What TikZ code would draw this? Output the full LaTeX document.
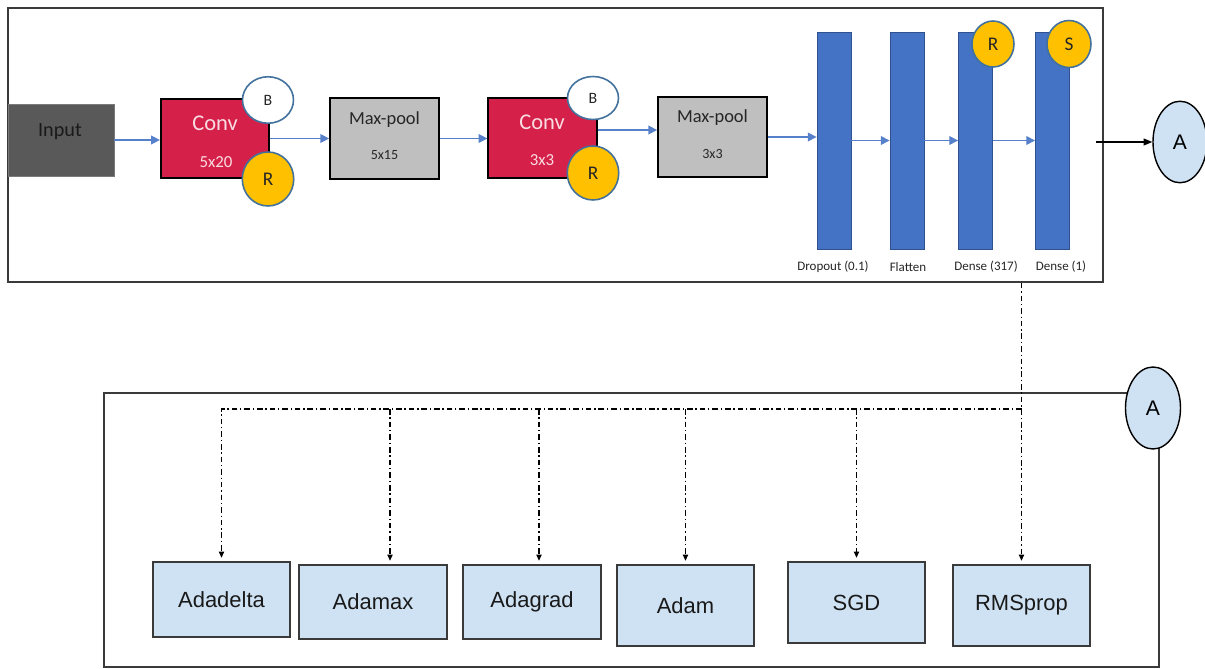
\documentclass[tikz,border=0pt]{standalone}
\usepackage{fontspec}
\setmainfont{Carlito}
\newfontfamily\arialf{Liberation Sans}
\usetikzlibrary{arrows.meta,shapes.geometric}
\definecolor{convred}{HTML}{D52149}
\definecolor{convtxt}{HTML}{F9DCE2}
\definecolor{inputgray}{HTML}{595959}
\definecolor{poolgray}{HTML}{BFBFBF}
\definecolor{barblue}{HTML}{4472C4}
\definecolor{barborder}{HTML}{2F528F}
\definecolor{ringblue}{HTML}{41719C}
\definecolor{gold}{HTML}{FFC000}
\definecolor{lightblue}{HTML}{CFE2F3}
\definecolor{framegray}{HTML}{3A3A3A}
\definecolor{txtdark}{HTML}{262626}
\begin{document}
\begin{tikzpicture}[x=0.02cm,y=-0.02cm,
  layerbox/.style={rectangle, draw=black, line width=1pt, inner sep=0pt},
  convbox/.style={layerbox, fill=convred, minimum width=2.17cm, minimum height=1.59cm},
  poolbox/.style={layerbox, fill=poolgray, minimum width=2.18cm, minimum height=1.61cm},
  bar/.style={rectangle, fill=barblue, draw=barborder, line width=0.5pt, minimum width=0.68cm, minimum height=4.34cm, inner sep=0pt},
  bring/.style={ellipse, draw=ringblue, line width=0.9pt, fill=white, inner sep=0pt, font=\fontsize{9}{10}\selectfont, text=txtdark},
  rring/.style={ellipse, draw=ringblue, line width=0.9pt, fill=gold, inner sep=0pt, font=\fontsize{11}{12}\selectfont, text=txtdark},
  convlbl/.style={text=convtxt, inner sep=0pt},
  poollbl/.style={text=txtdark, inner sep=0pt},
  barlbl/.style={text=txtdark, inner sep=0pt, font=\fontsize{7.4}{8}\selectfont},
  anode/.style={ellipse, draw=black, line width=0.8pt, fill=lightblue, minimum width=1.08cm, minimum height=1.63cm, inner sep=0pt, font=\arialf\fontsize{12}{14}\selectfont},
  optbox/.style={rectangle, draw=framegray, line width=0.8pt, fill=lightblue, minimum width=2.74cm, inner sep=0pt, font=\arialf\fontsize{12.5}{14}\selectfont, text=black!90},
  bluearrow/.style={draw=barblue!90!white, line width=0.8pt, -{Triangle[length=5pt,width=5pt]}},
  dd/.style={line width=0.6pt, dash pattern=on 3.2pt off 1.6pt on 0.8pt off 1.6pt},
  ddarrow/.style={dd, -{Triangle[length=3.5pt,width=3pt]}, shorten >=2pt}
]
\useasboundingbox (0,0) rectangle (1205,669);

% frames
\node[rectangle, draw=framegray, line width=1pt, minimum width=21.9cm, minimum height=5.48cm, inner sep=0pt] (topframe) at (555.5,145) {};
\node[rectangle, draw=framegray, line width=1pt, minimum width=21.1cm, minimum height=5.48cm, inner sep=0pt] (botframe) at (631.5,530) {};

% input
\node[rectangle, fill=inputgray, draw=inputgray!80, line width=0.5pt, minimum width=2.12cm, minimum height=1.44cm, inner sep=0pt] (input) at (61,140) {};
\node[text=black!90, inner sep=0pt, font=\fontsize{11.5}{12}\selectfont] (inputt) at (60,132) {Input};

% conv 1
\node[convbox] (conv1) at (215,138.5) {};
\node[convlbl, font=\fontsize{12.8}{14}\selectfont] (conv1t) at (215,123) {Conv};
\node[convlbl, font=\fontsize{9.6}{11}\selectfont] (conv1s) at (216,162) {5x20};

% max-pool 1
\node[poolbox] (mp1) at (384.5,138.5) {};
\node[poollbl, font=\fontsize{10.5}{12}\selectfont] (mp1t) at (384.5,120) {Max-pool};
\node[poollbl, font=\fontsize{8}{9}\selectfont] (mp1s) at (384.5,155) {5x15};

% conv 2
\node[convbox] (conv2) at (542.5,138) {};
\node[convlbl, font=\fontsize{12.8}{14}\selectfont] (conv2t) at (542,122) {Conv};
\node[convlbl, font=\fontsize{9.6}{11}\selectfont] (conv2s) at (542,160) {3x3};

% max-pool 2
\node[poolbox] (mp2) at (712.5,137) {};
\node[poollbl, font=\fontsize{10.5}{12}\selectfont] (mp2t) at (712.5,118) {Max-pool};
\node[poollbl, font=\fontsize{8}{9}\selectfont] (mp2s) at (712.5,154) {3x3};

% dense bars
\node[bar] (d0) at (834,140.5) {};
\node[bar] (d1) at (907,140.5) {};
\node[bar] (d2) at (975.5,140.5) {};
\node[bar] (d3) at (1052.5,140.5) {};
\node[barlbl] (d0l) at (833,267) {Dropout (0.1)};
\node[barlbl] (d1l) at (908,267) {Flatten};
\node[barlbl] (d2l) at (986,267) {Dense (317)};
\node[barlbl] (d3l) at (1061,267) {Dense (1)};

% blue arrows
\draw[bluearrow] (input.east) -- (input.east -| conv1.west);
\draw[bluearrow] (conv1.east) -- (conv1.east -| mp1.west);
\draw[bluearrow] (mp1.east) -- (mp1.east -| conv2.west);
\coordinate (c2o) at ([yshift=0.16cm]conv2.east);
\draw[bluearrow] (c2o) -- (c2o -| mp2.west);
\draw[bluearrow] (mp2.east) -- (mp2.east -| d0.west);
\draw[bluearrow] (d0.east) -- (d1.west);
\draw[bluearrow] (d1.east) -- (d2.west);
\draw[bluearrow] (d2.east) -- (d3.west);

% B / R / S badges
\node[bring, minimum width=1.02cm, minimum height=0.93cm] (b1) at (268,100) {B};
\node[rring, minimum width=1.03cm, minimum height=1.08cm] (r1) at (268,179) {R};
\node[bring, minimum width=1.02cm, minimum height=0.86cm] (b2) at (593,98) {B};
\node[rring, minimum width=1.03cm, minimum height=1.08cm] (r2) at (593,173) {R};
\node[rring, minimum width=0.84cm, minimum height=0.92cm] (r3) at (993,44) {R};
\node[rring, minimum width=0.88cm, minimum height=0.94cm] (s3) at (1069,44) {S};

% connector A (top)
\node[anode] (atop) at (1180,142) {A};
\draw[line width=0.7pt, -{Triangle[length=5pt,width=4pt]}] ([xshift=-0.16cm]atop.west -| topframe.east) -- (atop.west);

% connector A (bottom)
\node[anode, minimum width=1.1cm, minimum height=1.64cm] (abot) at (1153,408) {A};

% optimizer boxes
\node[optbox, minimum height=1.5cm] (ada) at (221.5,599.5) {Adadelta};
\node[optbox, minimum width=2.96cm, minimum height=1.48cm] (amax) at (373,602) {Adamax};
\node[optbox, minimum width=2.76cm, minimum height=1.48cm] (agrad) at (532,602) {Adagrad};
\node[optbox, minimum height=1.62cm] (adam) at (685.5,605.5) {Adam};
\node[optbox, minimum height=1.62cm] (sgd) at (856.5,602.5) {SGD};
\node[optbox, minimum height=1.62cm] (rms) at (1021.5,605.5) {RMSprop};

% dash-dot connectors
\coordinate (bus) at (1021.5,409);
\coordinate (amaxin) at ([xshift=0.34cm]amax.north);
\coordinate (agradin) at ([xshift=0.14cm]agrad.north);
\draw[ddarrow] (topframe.south -| rms.north) -- (rms.north);
\draw[ddarrow] (bus) -- (bus -| ada.north) -- (ada.north);
\draw[ddarrow] (bus -| amaxin) -- (amaxin);
\draw[ddarrow] (bus -| agradin) -- (agradin);
\draw[ddarrow] (bus -| adam.north) -- (adam.north);
\draw[ddarrow] (bus -| sgd.north) -- (sgd.north);
\end{tikzpicture}
\end{document}
